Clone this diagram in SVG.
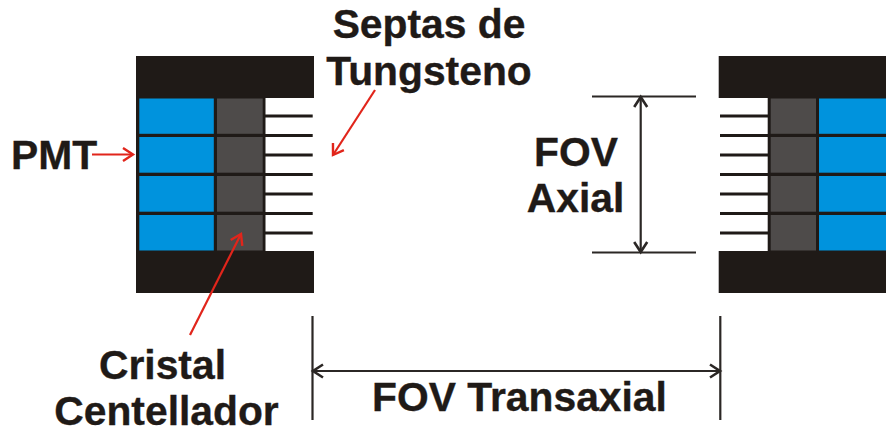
<svg xmlns="http://www.w3.org/2000/svg" width="886" height="429" viewBox="0 0 886 429">
<style>
.t{font-family:"Liberation Sans",Arial,sans-serif;font-weight:700;font-size:40.8px;fill:#1f1a17;stroke:#1f1a17;stroke-width:.35}
.k{fill:#1f1a17}.b{fill:#0093dd}.g{fill:#4e4b4a}
.s{stroke:#1f1a17;stroke-width:3;fill:none}
.d{stroke:#2b2725;stroke-width:2.2;fill:none}
.r{stroke:#e1251b;stroke-width:2.2;fill:none}
</style>
<defs>
<marker id="ah" markerUnits="userSpaceOnUse" markerWidth="16" markerHeight="16" refX="12" refY="8" orient="auto-start-reverse" overflow="visible"><path d="M2 1.5L12 8L2 14.5" fill="none" stroke="#2b2725" stroke-width="2.6"/></marker>
<marker id="ar" markerUnits="userSpaceOnUse" markerWidth="16" markerHeight="16" refX="12" refY="8" orient="auto" overflow="visible"><path d="M2 1.5L12 8L2 14.5" fill="none" stroke="#e1251b" stroke-width="2.4"/></marker>
</defs>
<g id="detector-left">
<rect class="k" x="136" y="56" width="178" height="42"/>
<rect class="k" x="136" y="251" width="178" height="42"/>
<rect class="k" x="136" y="98" width="129.500" height="153"/>
<rect class="b" x="139.300" y="98.500" width="74.500" height="35.300"/>
<rect class="b" x="139.300" y="137" width="74.500" height="35.700"/>
<rect class="b" x="139.300" y="176" width="74.500" height="35.700"/>
<rect class="b" x="139.300" y="215" width="74.500" height="35.500"/>
<rect class="g" x="217" y="98.500" width="45.700" height="35.300"/>
<rect class="g" x="217" y="137" width="45.700" height="35.700"/>
<rect class="g" x="217" y="176" width="45.700" height="35.700"/>
<rect class="g" x="217" y="215" width="45.700" height="35.500"/>
<path class="s" d="M264 116H312.700M264 135.400H312.700M264 155H312.700M264 174.400H312.700M264 194H312.700M264 213.400H312.700M264 233H312.700"/>
</g>
<g id="detector-right">
<rect class="k" x="718.700" y="56" width="167.300" height="42"/>
<rect class="k" x="718.700" y="251" width="167.300" height="42"/>
<rect class="k" x="767.700" y="98" width="118.300" height="153"/>
<rect class="g" x="770.700" y="98.500" width="45.300" height="35.300"/>
<rect class="g" x="770.700" y="137" width="45.300" height="35.700"/>
<rect class="g" x="770.700" y="176" width="45.300" height="35.700"/>
<rect class="g" x="770.700" y="215" width="45.300" height="35.500"/>
<rect class="b" x="819" y="98.500" width="67" height="35.300"/>
<rect class="b" x="819" y="137" width="67" height="35.700"/>
<rect class="b" x="819" y="176" width="67" height="35.700"/>
<rect class="b" x="819" y="215" width="67" height="35.500"/>
<path class="s" d="M720 116H769M720 135.400H769M720 155H769M720 174.400H769M720 194H769M720 213.400H769M720 233H769"/>
</g>
<g id="labels">
<text class="t" x="429" y="37.500" text-anchor="middle">Septas de</text>
<text class="t" x="429" y="85" text-anchor="middle">Tungsteno</text>
<text class="t" x="54" y="168.500" text-anchor="middle">PMT</text>
<text class="t" x="576" y="166" text-anchor="middle">FOV</text>
<text class="t" x="575.500" y="212" text-anchor="middle">Axial</text>
<text class="t" x="162.500" y="379" text-anchor="middle">Cristal</text>
<text class="t" x="166.500" y="425" text-anchor="middle">Centellador</text>
<text class="t" x="519.500" y="410.700" text-anchor="middle">FOV Transaxial</text>
</g>
<g id="connectors">
<path class="d" d="M592 96.500H696M592 252.500H696"/>
<path class="d" d="M640.700 97V252" marker-start="url(#ah)" marker-end="url(#ah)"/>
<path class="d" d="M312.500 316V420M720.300 316V420"/>
<path class="d" d="M313 371H720" marker-start="url(#ah)" marker-end="url(#ah)"/>
<path class="r" d="M92 154.500H133" marker-end="url(#ar)"/>
<path class="r" d="M375 90L333 155" marker-end="url(#ar)"/>
<path class="r" d="M190 335L241 234" marker-end="url(#ar)"/>
</g>
</svg>
